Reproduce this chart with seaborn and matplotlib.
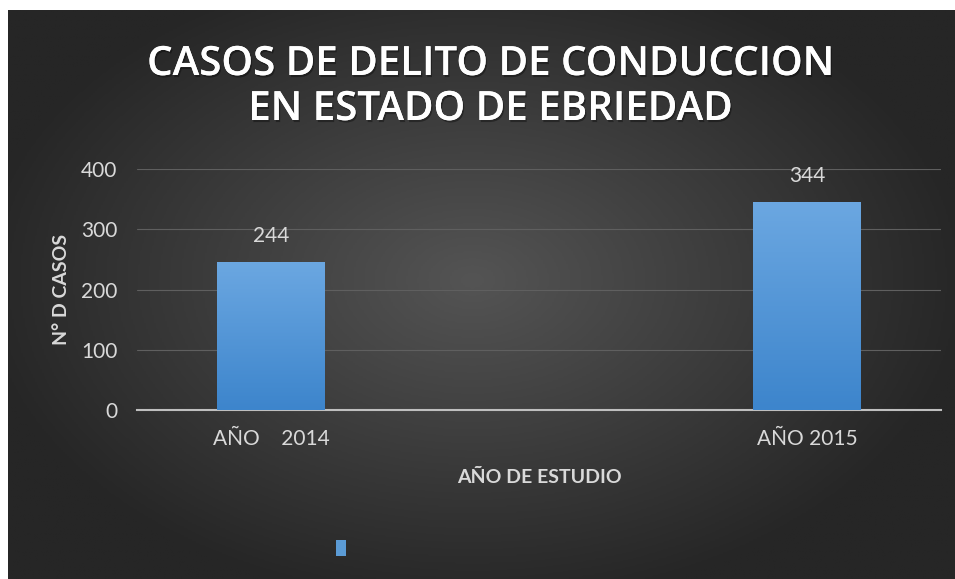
import numpy as np
import pandas as pd
import matplotlib.pyplot as plt
import seaborn as sns
import matplotlib.patheffects as pe
from matplotlib.patches import Patch
from matplotlib.colors import LinearSegmentedColormap

# Datos del gráfico
categorias = ['AÑO    2014', '', 'AÑO 2015']
casos = [244, np.nan, 344]
ticks_y = [0, 100, 200, 300, 400]

df = pd.DataFrame({'anio': categorias, 'casos': casos})

sns.set_style('dark')
plt.rcParams['font.family'] = ['Lato', 'DejaVu Sans']

fig = plt.figure(figsize=(9.55, 5.79), dpi=100, facecolor='white')

# Fondo oscuro con degradé radial
bg = fig.add_axes([8 / 955, 0, 1 - 8 / 955, 1 - 10 / 579], zorder=0)
yy, xx = np.mgrid[-1:1:300j, -1:1:500j]
r = np.sqrt(((xx + 0.02) / 1.05) ** 2 + ((yy + 0.05) / 1.15) ** 2)
fondo = np.clip(1 - r, 0, 1)
cmap_fondo = LinearSegmentedColormap.from_list('fondo', ['#262626', '#545454'])
bg.imshow(fondo, cmap=cmap_fondo, aspect='auto', extent=[0, 1, 0, 1], vmin=0, vmax=1)
bg.axis('off')

ax = fig.add_axes([137 / 955, 1 - 410 / 579, (941 - 137) / 955, (410 - 169) / 579], zorder=1)
ax.patch.set_alpha(0)

sns.barplot(data=df, x='anio', y='casos', order=categorias, color='#5b9bd5',
            saturation=1, width=0.4, ax=ax)

# Degradé dentro de las barras
cmap_barra = LinearSegmentedColormap.from_list('barra', ['#3d85cc', '#6ba7e1'])
for p in ax.patches:
    h = p.get_height()
    if np.isnan(h) or h == 0:
        continue
    x0 = p.get_x()
    w = p.get_width()
    grad = np.linspace(0, 1, 100).reshape(-1, 1)
    ax.imshow(grad, cmap=cmap_barra, origin='lower', aspect='auto',
              extent=[x0, x0 + w, 0, h], zorder=3)
    p.set_alpha(0)

for c in ax.containers:
    ax.bar_label(c, fmt='%d', padding=12, color='#d9d9d9', fontsize=15)

ax.set_xlim(-0.5, len(categorias) - 0.5)
ax.set_ylim(0, 400)
ax.set_yticks(ticks_y)

# Rejilla y ejes
ax.grid(axis='y', color='#5f5f5f', linewidth=0.8)
ax.grid(axis='x', visible=False)
ax.set_axisbelow(True)
for s in ['top', 'right', 'left']:
    ax.spines[s].set_visible(False)
ax.spines['bottom'].set_color('#bfbfbf')
ax.spines['bottom'].set_linewidth(1.5)

ax.set_xticks(np.arange(-0.5, len(categorias)), minor=True)
ax.tick_params(axis='x', which='minor', length=7, width=1.2, color='#bfbfbf', direction='out')
ax.tick_params(axis='x', which='major', length=0, pad=14, labelsize=15, labelcolor='#d9d9d9')
ax.tick_params(axis='y', length=0, pad=14, labelsize=15, labelcolor='#d9d9d9')

ax.set_xlabel('AÑO DE ESTUDIO', fontsize=14, fontweight='bold', color='#d9d9d9')
ax.xaxis.set_label_coords(0.5, -0.245)
ax.set_ylabel('N° D CASOS', fontsize=14, fontweight='bold', color='#d9d9d9')
ax.yaxis.set_label_coords(-0.083, 0.5)

# Título
sombra = [pe.withSimplePatchShadow(offset=(1, -1.5), shadow_rgbFace='black', alpha=0.35), pe.Normal()]
fig.text(0.513, 1 - 65 / 579, 'CASOS DE DELITO DE CONDUCCION', ha='center', va='center',
         fontsize=29, family=['Open Sans', 'DejaVu Sans'], fontweight='semibold',
         color='white', path_effects=sombra)
fig.text(0.513, 1 - 110 / 579, 'EN ESTADO DE EBRIEDAD', ha='center', va='center',
         fontsize=29, family=['Open Sans', 'DejaVu Sans'], fontweight='semibold',
         color='white', path_effects=sombra)

# Leyenda sin texto
fig.legend(handles=[Patch(facecolor='#5b9bd5', edgecolor='none')], labels=[''], loc='center',
           bbox_to_anchor=(341 / 955, 1 - 549 / 579), frameon=False,
           handlelength=0.55, handleheight=0.9, handletextpad=0, fontsize=14)

fig.savefig('out.png', dpi=100, facecolor=fig.get_facecolor())
